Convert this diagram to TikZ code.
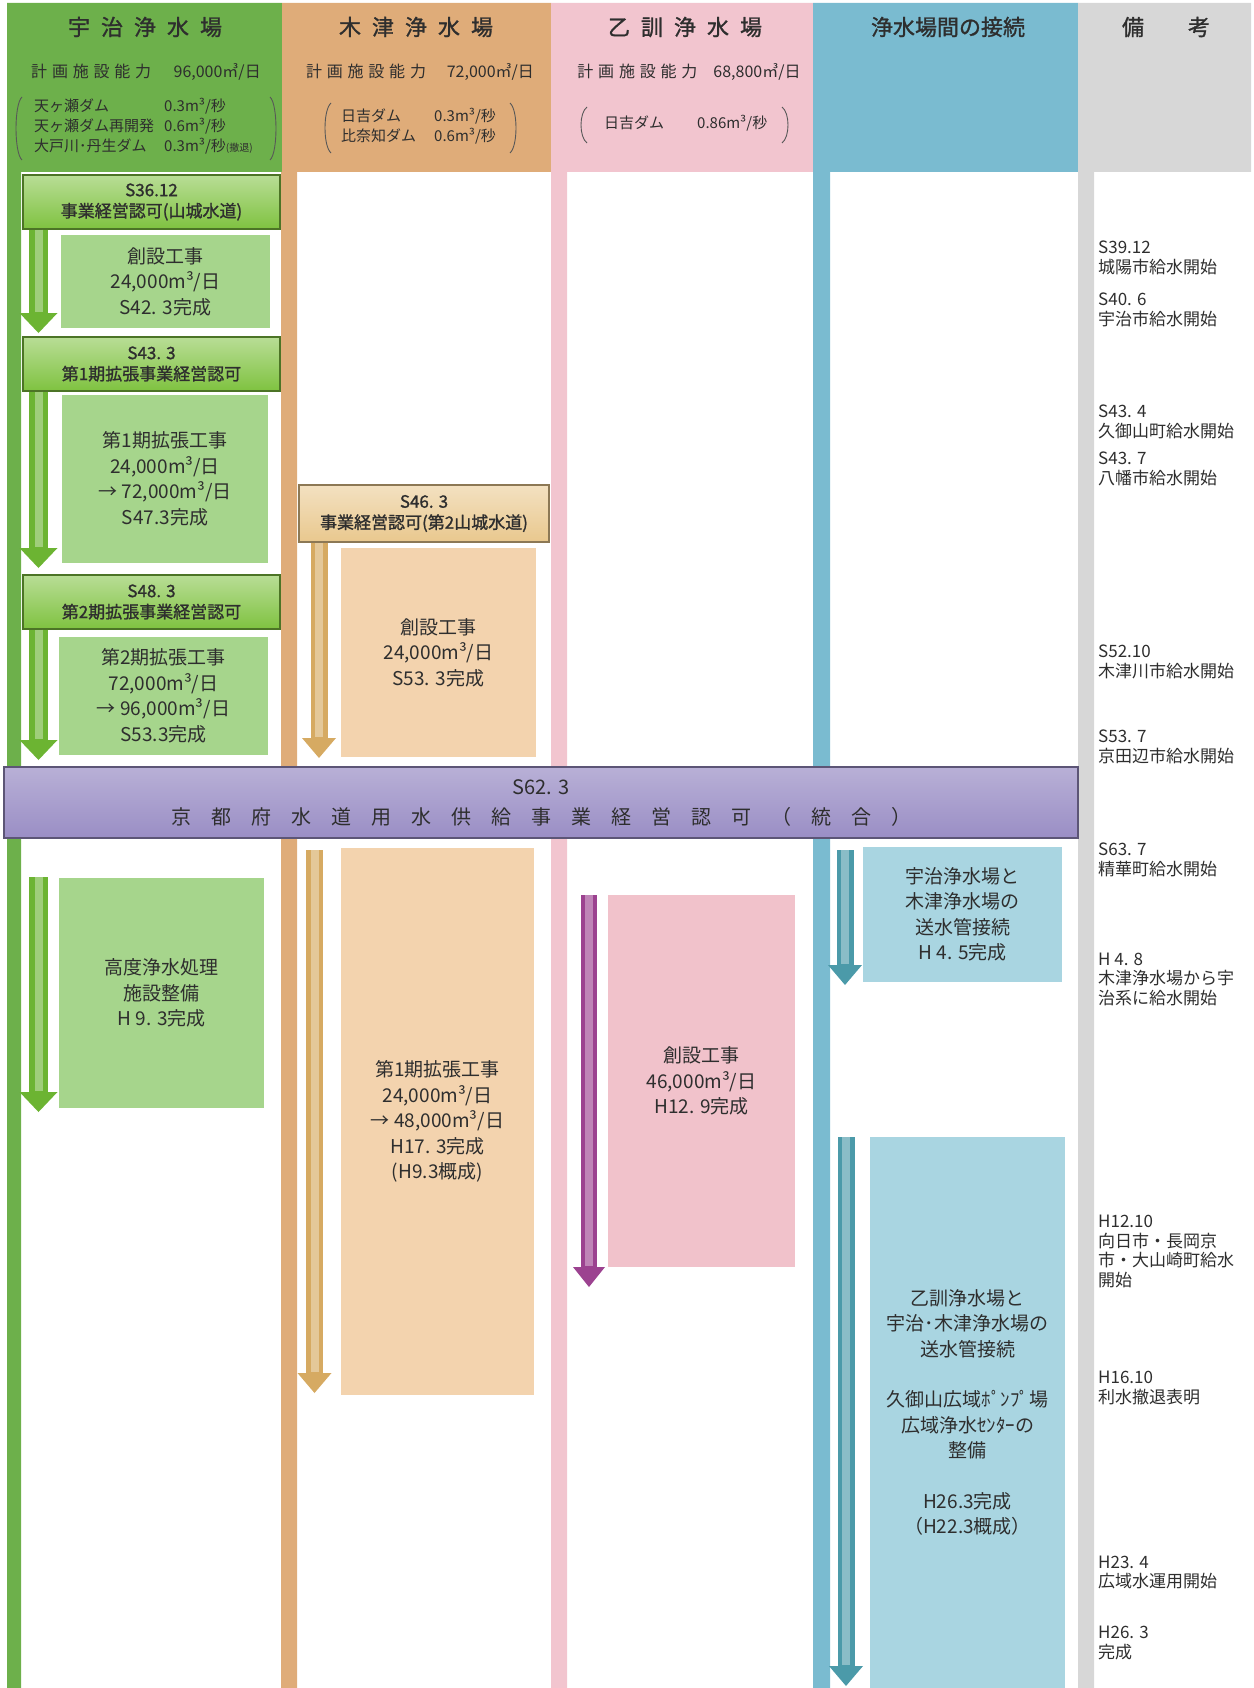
\documentclass[tikz,border=0pt]{standalone}
\usepackage{fontspec}
\usepackage{tikz}
\usetikzlibrary{arrows.meta}
\setmainfont{Noto Sans CJK JP}
\newfontfamily\jpbold{Noto Sans CJK JP}[FakeBold=1.2]
\newcommand{\tsp}{\hspace{0.5em}}
\newcommand{\csp}{\hspace{0.3em}}
\definecolor{inkgray}{HTML}{2E2E2E}
\definecolor{ujigreen}{HTML}{6DB04B}
\definecolor{ujipermit}{HTML}{7FC240}
\definecolor{ujilight}{HTML}{A6D58C}
\definecolor{ujiarrow}{HTML}{6CB432}
\definecolor{kizutan}{HTML}{DFAC79}
\definecolor{kizupermit}{HTML}{E9C88E}
\definecolor{kizulight}{HTML}{F3D3AE}
\definecolor{kizuarrow}{HTML}{D6AA62}
\definecolor{otopink}{HTML}{F2C5CF}
\definecolor{otolight}{HTML}{F1C2CB}
\definecolor{otoarrow}{HTML}{9C4290}
\definecolor{linkblue}{HTML}{7ABBD0}
\definecolor{linklight}{HTML}{A9D5E1}
\definecolor{linkarrow}{HTML}{4B9AA9}
\definecolor{notegray}{HTML}{D7D7D7}
\definecolor{bandpurple}{HTML}{9A8EC5}

\begin{document}
\begin{tikzpicture}[x=1pt,y=-1pt,
  every node/.style={text=inkgray, inner sep=0pt},
  coltitle/.style={font=\jpbold\fontsize{22}{26}\selectfont},
  capa/.style={font=\fontsize{16}{20}\selectfont},
  dam/.style={anchor=west, font=\fontsize{15}{20}\selectfont},
  brk/.style={draw=inkgray!80, line width=0.9pt},
  permit/.style={draw=#1!60!black, line width=1.2pt, top color=#1!55!white, bottom color=#1,
    minimum width=257pt, minimum height=54pt, align=center, font=\jpbold\fontsize{17}{21}\selectfont},
  work/.style={fill=#1, align=center, font=\fontsize{19}{25.5}\selectfont},
  band/.style={draw=bandpurple!60!black, line width=1.5pt, top color=bandpurple!70!white, bottom color=bandpurple,
    minimum width=1074pt, minimum height=71pt, align=center, font=\fontsize{20}{30}\selectfont},
  tlarrow/.style={draw=#1, line width=17pt, -{Triangle[length=20pt 0 0, width=0pt 2 0, line width=0pt 0 0]},
    postaction={draw=#1!65!white, line width=8pt, arrows=-, shorten >=21pt}},
  note/.style={anchor=west, align=left, font=\fontsize{17}{19.5}\selectfont}]
      \useasboundingbox (0,0) rectangle (1253,1688);

      %Colonnes
      \fill[ujigreen] (7,3) rectangle (282,172) (7,172) rectangle (21,1688);
      \fill[kizutan] (282,3) rectangle (551,172) (281,172) rectangle (297,1688);
      \fill[otopink] (551,3) rectangle (813,172) (551,172) rectangle (567,1688);
      \fill[linkblue] (813,3) rectangle (1078,172) (813,172) rectangle (830,1688);
      \fill[notegray] (1078,3) rectangle (1251,172) (1078,172) rectangle (1094,1688);

      %En-têtes
      \node[coltitle] (UjiTitle) at (145,27) {宇\tsp 治\tsp 浄\tsp 水\tsp 場};
      \node[coltitle] (KizuTitle) at (416,27) {木\tsp 津\tsp 浄\tsp 水\tsp 場};
      \node[coltitle] (OtoTitle) at (685,27) {乙\tsp 訓\tsp 浄\tsp 水\tsp 場};
      \node[coltitle] (LinkTitle) at (948,27) {浄水場間の接続};
      \node[coltitle] (NoteTitle) at (1166,27) {備　　考};

      \node[capa] (UjiCapa) at (146,72) {計\csp 画\csp 施\csp 設\csp 能\csp 力\hspace{1.4em}96,000㎥/日};
      \node[capa] (KizuCapa) at (420,72) {計\csp 画\csp 施\csp 設\csp 能\csp 力\hspace{1.3em}72,000㎥/日};
      \node[capa] (OtoCapa) at (689,72) {計\csp 画\csp 施\csp 設\csp 能\csp 力\hspace{1em}68,800㎥/日};

      %Barrages
      \node[dam] (UjiDam) at (34,128) {\begin{tabular}{@{}p{130pt}@{}l@{}}
        天ヶ瀬ダム & 0.3m³/秒\\
        天ヶ瀬ダム再開発 & 0.6m³/秒\\
        大戸川･丹生ダム & 0.3m³/秒{\fontsize{10}{12}\selectfont(撤退)}
      \end{tabular}};
      \node[dam] (KizuDam) at (341,128) {\begin{tabular}{@{}p{93pt}@{}l@{}}
        日吉ダム & 0.3m³/秒\\
        比奈知ダム & 0.6m³/秒
      \end{tabular}};
      \node[dam] (OtoDam) at (604,125) {\begin{tabular}{@{}p{93pt}@{}l@{}}
        日吉ダム & 0.86m³/秒
      \end{tabular}};
      \draw[brk] (22,97) .. controls (14,104) and (14,153) .. (22,160);
      \draw[brk] (270,97) .. controls (278,104) and (278,153) .. (270,160);
      \draw[brk] (331,103) .. controls (323,110) and (323,146) .. (331,153);
      \draw[brk] (510,103) .. controls (518,110) and (518,146) .. (510,153);
      \draw[brk] (587,107) .. controls (579,113) and (579,137) .. (587,143);
      \draw[brk] (782,107) .. controls (790,113) and (790,137) .. (782,143);

      %Flèches
      \coordinate (UjiA1) at (38.5,333);
      \coordinate (UjiA2) at (38.5,568);
      \coordinate (UjiA3) at (38.5,760);
      \coordinate (UjiA4a) at (38.5,877);
      \coordinate (UjiA4b) at (38.5,1112);
      \coordinate (KizuA1) at (319,758);
      \coordinate (KizuA2a) at (314.5,850);
      \coordinate (KizuA2b) at (314.5,1393);
      \coordinate (OtoA1a) at (589,895);
      \coordinate (OtoA1b) at (589,1287);
      \coordinate (LinkA1a) at (845,850);
      \coordinate (LinkA1b) at (845,985);
      \coordinate (LinkA2a) at (846,1137);
      \coordinate (LinkA2b) at (846,1686);

      %Permis
      \node[permit=ujipermit] (UjiPermit1) at (151.5,202) {S36.12\\事業経営認可(山城水道)};
      \node[permit=ujipermit] (UjiPermit2) at (151.5,364) {S43. 3\\第1期拡張事業経営認可};
      \node[permit=ujipermit] (UjiPermit3) at (151.5,602) {S48. 3\\第2期拡張事業経営認可};
      \node[permit=kizupermit, minimum width=250pt, minimum height=57pt] (KizuPermit1) at (424,513.5) {S46. 3\\事業経営認可(第2山城水道)};

      \draw[tlarrow=ujiarrow, line width=19pt] (UjiPermit1.south -| UjiA1) -- (UjiA1);
      \draw[tlarrow=ujiarrow, line width=19pt] (UjiPermit2.south -| UjiA2) -- (UjiA2);
      \draw[tlarrow=ujiarrow, line width=19pt] (UjiPermit3.south -| UjiA3) -- (UjiA3);
      \draw[tlarrow=ujiarrow, line width=19pt] (UjiA4a) -- (UjiA4b);
      \draw[tlarrow=kizuarrow, line width=17pt] (KizuPermit1.south -| KizuA1) -- (KizuA1);
      \draw[tlarrow=kizuarrow, line width=17pt] (KizuA2a) -- (KizuA2b);
      \draw[tlarrow=otoarrow, line width=16pt] (OtoA1a) -- (OtoA1b);
      \draw[tlarrow=linkarrow, line width=17pt] (LinkA1a) -- (LinkA1b);
      \draw[tlarrow=linkarrow, line width=17pt] (LinkA2a) -- (LinkA2b);

      %Travaux
      \node[work=ujilight, minimum width=209pt, minimum height=93pt] (UjiWork1) at (165.5,281.5) {創設工事\\24,000m³/日\\S42. 3完成};
      \node[work=ujilight, minimum width=206pt, minimum height=168pt] (UjiWork2) at (165,479) {第1期拡張工事\\24,000m³/日\\→ 72,000m³/日\\S47.3完成};
      \node[work=ujilight, minimum width=209pt, minimum height=118pt] (UjiWork3) at (163.5,696) {第2期拡張工事\\72,000m³/日\\→ 96,000m³/日\\S53.3完成};
      \node[work=ujilight, minimum width=205pt, minimum height=230pt] (UjiWork4) at (161.5,993) {高度浄水処理\\施設整備\\H 9. 3完成};
      \node[work=kizulight, minimum width=195pt, minimum height=209pt] (KizuWork1) at (438.5,652.5) {創設工事\\24,000m³/日\\S53. 3完成};
      \node[work=kizulight, minimum width=193pt, minimum height=547pt] (KizuWork2) at (437.5,1121.5) {第1期拡張工事\\24,000m³/日\\→ 48,000m³/日\\H17. 3完成\\(H9.3概成)};
      \node[work=otolight, minimum width=187pt, minimum height=372pt] (OtoWork1) at (701.5,1081) {創設工事\\46,000m³/日\\H12. 9完成};
      \node[work=linklight, minimum width=199pt, minimum height=135pt] (LinkWork1) at (962.5,914.5) {宇治浄水場と\\木津浄水場の\\送水管接続\\H 4. 5完成};
      \node[work=linklight, minimum width=195pt, minimum height=551pt] (LinkWork2) at (967.5,1412.5) {乙訓浄水場と\\宇治･木津浄水場の\\送水管接続\\[25pt]久御山広域ﾎﾟﾝﾌﾟ場\\広域浄水ｾﾝﾀｰの\\整備\\[25pt]H26.3完成\\（H22.3概成）};

      %Intégration
      \node[band] (Integration) at (541,802.5) {S62. 3\\京　都　府　水　道　用　水　供　給　事　業　経　営　認　可　（　統　合　）};

      %Remarques
      \node[note] (Note1) at (1098,258) {S39.12\\城陽市給水開始};
      \node[note] (Note2) at (1098,310) {S40. 6\\宇治市給水開始};
      \node[note] (Note3) at (1098,422) {S43. 4\\久御山町給水開始};
      \node[note] (Note4) at (1098,469) {S43. 7\\八幡市給水開始};
      \node[note] (Note5) at (1098,662) {S52.10\\木津川市給水開始};
      \node[note] (Note6) at (1098,747) {S53. 7\\京田辺市給水開始};
      \node[note] (Note7) at (1098,860) {S63. 7\\精華町給水開始};
      \node[note] (Note8) at (1098,979) {H 4. 8\\木津浄水場から宇\\治系に給水開始};
      \node[note] (Note9) at (1098,1251.5) {H12.10\\向日市・長岡京\\市・大山崎町給水\\開始};
      \node[note] (Note10) at (1098,1388) {H16.10\\利水撤退表明};
      \node[note] (Note11) at (1098,1572.5) {H23. 4\\広域水運用開始};
      \node[note] (Note12) at (1098,1643) {H26. 3\\完成};
\end{tikzpicture}
\end{document}
